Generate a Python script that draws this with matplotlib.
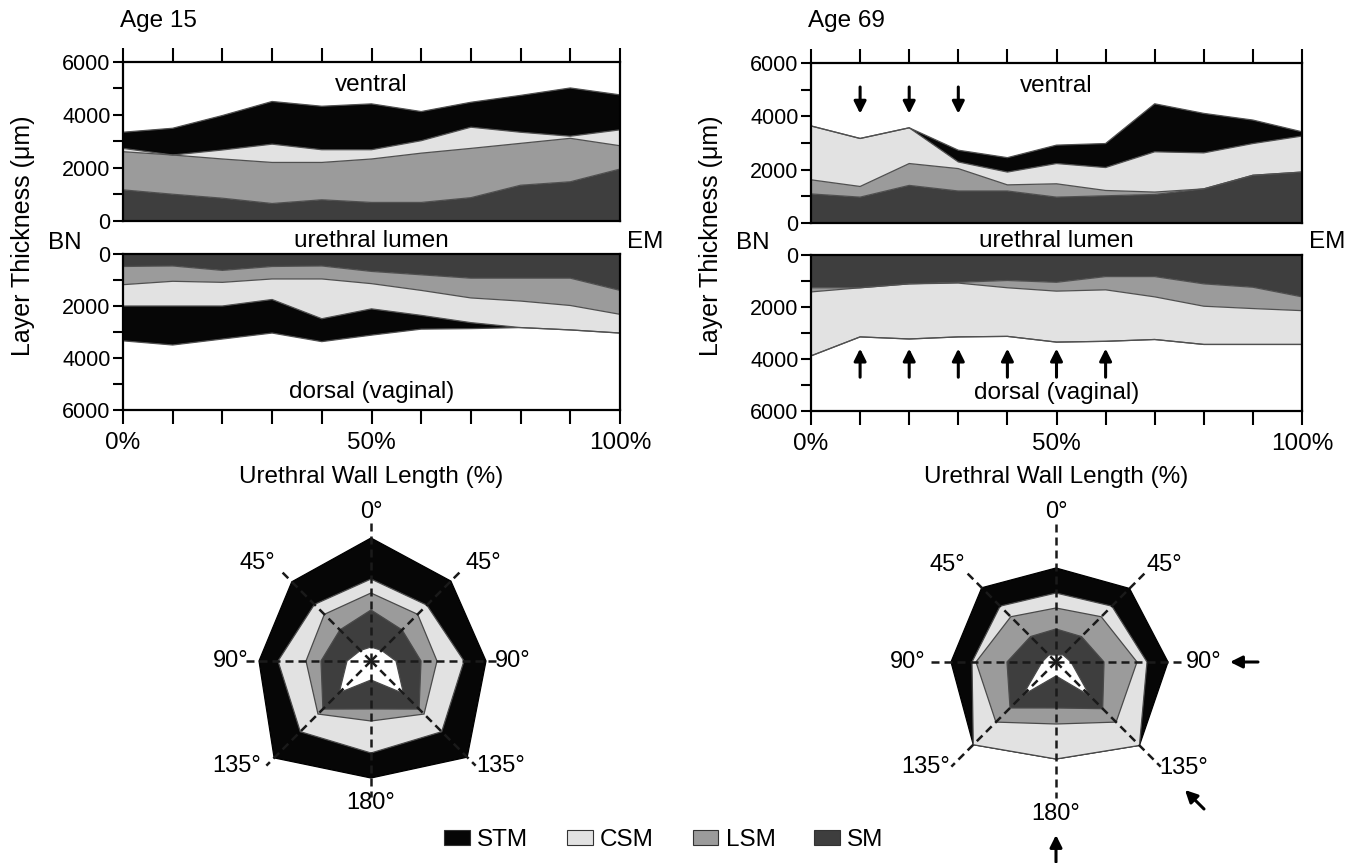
import numpy as np
import matplotlib
matplotlib.use('Agg')
import matplotlib.pyplot as plt
from matplotlib.patches import Patch, Polygon

plt.rcParams['font.family'] = ['Liberation Sans', 'DejaVu Sans']

W, H = 1363, 863

# ---------------- data ----------------
pos = [0, 10, 20, 30, 40, 50, 60, 70, 80, 90, 100]          # % urethral wall length
layers = ['SM', 'LSM', 'CSM', 'STM']                          # inner -> outer

# Age 15, ventral (cumulative upper boundary of each layer, um)
a15_v_sm  = [1175, 1010, 860, 660, 800, 700, 700, 880, 1350, 1480, 1960]
a15_v_lsm = [2615, 2490, 2340, 2210, 2210, 2340, 2560, 2740, 2930, 3120, 2840]
a15_v_csm = [2740, 2490, 2680, 2900, 2690, 2690, 3030, 3540, 3350, 3200, 3440]
a15_v_stm = [3350, 3500, 3980, 4510, 4330, 4420, 4130, 4480, 4740, 5020, 4760]
# Age 15, dorsal
a15_d_sm  = [480, 460, 630, 480, 460, 670, 800, 930, 930, 930, 1400]
a15_d_lsm = [1180, 1050, 1090, 960, 960, 1140, 1400, 1690, 1810, 1980, 2320]
a15_d_csm = [2000, 2000, 2000, 1750, 2490, 2110, 2360, 2640, 2830, 2920, 3040]
a15_d_stm = [3340, 3500, 3270, 3040, 3370, 3120, 2890, 2870, 2830, 2920, 3040]
# Age 69, ventral
a69_v_sm  = [1090, 970, 1410, 1200, 1200, 970, 1020, 1070, 1280, 1790, 1910]
a69_v_lsm = [1620, 1370, 2230, 2040, 1430, 1470, 1220, 1160, 1280, 1790, 1910]
a69_v_csm = [3640, 3170, 3570, 2290, 1910, 2230, 2080, 2670, 2630, 2980, 3260]
a69_v_stm = [3640, 3170, 3570, 2730, 2450, 2920, 2980, 4470, 4110, 3860, 3420]
# Age 69, dorsal
a69_d_sm  = [1260, 1260, 1110, 1050, 980, 1050, 830, 830, 1110, 1240, 1610]
a69_d_lsm = [1420, 1260, 1110, 1080, 1260, 1390, 1340, 1610, 1970, 2060, 2140]
a69_d_csm = [3880, 3150, 3230, 3150, 3130, 3350, 3320, 3250, 3440, 3440, 3440]
a69_d_stm = [3880, 3150, 3230, 3150, 3130, 3350, 3320, 3250, 3440, 3440, 3440]

arrows69_ventral = [10, 20, 30]
arrows69_dorsal = [10, 20, 30, 40, 50, 60]

# radar (cross section); angles clockwise from ventral (top)
radar_angles = [0, 45, 90, 135, 180, 225, 270, 315]
radar_labels = ['0°', '45°', '90°', '135°', '180°', '135°', '90°', '45°']
# cumulative outer radius of lumen and each layer (relative units)
r15_lumen = [14, 15, 25, 46, 19, 45, 24, 15]
r15_sm    = [51, 44, 50, 68, 48, 68, 50, 44]
r15_lsm   = [68, 66, 66, 75, 60, 75, 65, 66]
r15_csm   = [82, 79, 93, 100, 92, 100, 93, 80]
r15_stm   = [123, 113, 115, 136, 117, 137, 112, 112]

r69_lumen = [7, 10, 15, 48, 14, 47, 14, 10]
r69_sm    = [33, 36, 48, 66, 46, 65, 49, 36]
r69_lsm   = [54, 64, 81, 85, 62, 85, 80, 64]
r69_csm   = [69, 79, 91, 118, 97, 117, 84, 79]
r69_stm   = [94, 104, 112, 118, 97, 117, 105, 105]

COLORS = {'STM': '#060606', 'CSM': '#e2e2e2', 'LSM': '#9b9b9b', 'SM': '#3e3e3e'}

# ---------------- figure ----------------
fig = plt.figure(figsize=(W / 100, H / 100), dpi=100)


def px_ax(x0, y0, x1, y1):
    return fig.add_axes([x0 / W, 1 - y1 / H, (x1 - x0) / W, (y1 - y0) / H])


def style_common(ax):
    for s in ax.spines.values():
        s.set_linewidth(1.6)
    ax.set_xlim(0, 100)
    ax.set_yticks([0, 2000, 4000, 6000])
    ax.set_yticks([1000, 3000, 5000], minor=True)
    ax.set_yticklabels(['0', '2000', '4000', '6000'])
    ax.tick_params(axis='y', which='both', direction='out', length=7, width=1.5,
                   labelsize=15.5, pad=2)
    ax.set_xticks(pos)


def stack(ax, bounds):
    prev = np.zeros(len(pos))
    for b, key in zip(bounds, layers):
        b = np.array(b, dtype=float)
        ax.fill_between(pos, prev, b, facecolor=COLORS[key], edgecolor='none', lw=0)
        prev = b
    for b in bounds:
        ax.plot(pos, b, color='#505050', lw=0.9)


def panels(x0, x1, yt0, yt1, yb0, yb1, ventral, dorsal, title, v_arrows=None, d_arrows=None):
    axt = px_ax(x0, yt0, x1, yt1)
    stack(axt, ventral)
    style_common(axt)
    axt.set_ylim(0, 6000)
    axt.xaxis.tick_top()
    axt.tick_params(axis='x', which='major', direction='out', length=10, width=1.5,
                    labeltop=False, top=True, bottom=False)
    axt.text(50, 5150, 'ventral', ha='center', va='center', fontsize=17.5)
    if v_arrows:
        for xa in v_arrows:
            axt.annotate('', xy=(xa, 4100), xytext=(xa, 5100),
                         arrowprops=dict(arrowstyle='-|>', color='k', lw=2.2,
                                         mutation_scale=18, shrinkA=0, shrinkB=0))

    axb = px_ax(x0, yb0, x1, yb1)
    stack(axb, dorsal)
    style_common(axb)
    axb.set_ylim(6000, 0)
    xl = ['0%' if p == 0 else '50%' if p == 50 else '100%' if p == 100 else '' for p in pos]
    axb.set_xticklabels(xl)
    axb.tick_params(axis='x', which='major', direction='out', length=10, width=1.5,
                    labelsize=17.5, pad=6)
    axb.text(50, 5300, 'dorsal (vaginal)', ha='center', va='center', fontsize=17.5)
    if d_arrows:
        for xa in d_arrows:
            axb.annotate('', xy=(xa, 3600), xytext=(xa, 4700),
                         arrowprops=dict(arrowstyle='-|>', color='k', lw=2.2,
                                         mutation_scale=18, shrinkA=0, shrinkB=0))

    xc = (x0 + x1) / 2
    fig.text(xc / W, 1 - 241 / H, 'urethral lumen', ha='center', va='center', fontsize=17.5)
    fig.text((x0 - 58) / W, 1 - 243 / H, 'BN', ha='center', va='center', fontsize=17.5)
    fig.text((x1 + 25) / W, 1 - 242 / H, 'EM', ha='center', va='center', fontsize=17.5)
    fig.text(xc / W, 1 - 477 / H, 'Urethral Wall Length (%)', ha='center', va='center',
             fontsize=17.5)
    fig.text((x0 - 100) / W, 1 - 236 / H, 'Layer Thickness (μm)', ha='center', va='center',
             rotation=90, fontsize=18)
    fig.text((x0 - 3) / W, 1 - 21 / H, title, ha='left', va='center', fontsize=17.5)


panels(123, 620, 62, 221, 254, 410,
       [a15_v_sm, a15_v_lsm, a15_v_csm, a15_v_stm],
       [a15_d_sm, a15_d_lsm, a15_d_csm, a15_d_stm], 'Age 15')
panels(811, 1302, 63, 223, 255, 411,
       [a69_v_sm, a69_v_lsm, a69_v_csm, a69_v_stm],
       [a69_d_sm, a69_d_lsm, a69_d_csm, a69_d_stm], 'Age 69',
       v_arrows=arrows69_ventral, d_arrows=arrows69_dorsal)


# ---------------- radar cross sections ----------------
def radar(cx, cy, radii, line_len, label_xy, arrows=()):
    R = 215
    ax = px_ax(cx - R, cy - R, cx + R, cy + R)
    ax.set_xlim(-R, R)
    ax.set_ylim(-R, R)
    ax.axis('off')
    th = np.deg2rad(radar_angles)
    fills = [('STM', radii[4]), ('CSM', radii[3]), ('LSM', radii[2]), ('SM', radii[1])]
    for key, r in fills:
        r = np.array(r, dtype=float)
        pts = np.column_stack([r * np.sin(th), r * np.cos(th)])
        ec = 'k' if key == 'STM' else '#4a4a4a'
        ax.add_patch(Polygon(pts, closed=True, facecolor=COLORS[key], edgecolor=ec, lw=0.9))
    r = np.array(radii[0], dtype=float)
    pts = np.column_stack([r * np.sin(th), r * np.cos(th)])
    ax.add_patch(Polygon(pts, closed=True, facecolor='white', edgecolor='#4a4a4a', lw=0.9))
    for t, L in zip(th, line_len):
        ax.plot([0, L * np.sin(t)], [0, L * np.cos(t)], color='#1a1a1a', lw=1.8,
                linestyle=(0, (3.2, 2.0)))
    for lab, (lx, ly) in zip(radar_labels, label_xy):
        ax.text(lx, ly, lab, ha='center', va='center', fontsize=17)
    for (tx, ty), (sx, sy) in arrows:
        ax.annotate('', xy=(tx, ty), xytext=(sx, sy),
                    arrowprops=dict(arrowstyle='-|>', color='k', lw=2.2,
                                    mutation_scale=18, shrinkA=0, shrinkB=0))


line_len = [138, 130, 130, 148, 136, 148, 130, 130]
lab15 = [(0, 149), (112, 98), (142, 0), (130, -105), (0, -142), (-134, -105), (-140, 0),
         (-114, 98)]
lab69 = [(0, 150), (108, 97), (148, 0), (128, -106), (0, -152), (-130, -105), (-148, 0),
         (-109, 97)]

radar(371, 661, [r15_lumen, r15_sm, r15_lsm, r15_csm, r15_stm], line_len, lab15)
radar(1056, 662, [r69_lumen, r69_sm, r69_lsm, r69_csm, r69_stm], line_len, lab69,
      arrows=[((174, 0), (202, 0)), ((129, -128), (148, -147)), ((0, -173), (0, -200))])

# ---------------- legend ----------------
handles = [Patch(facecolor=COLORS[k], edgecolor='#333333', lw=0.8) for k in ['STM', 'CSM', 'LSM', 'SM']]
fig.legend(handles, ['STM', 'CSM', 'LSM', 'SM'], loc='center',
           bbox_to_anchor=(664 / W, 1 - 840 / H), ncol=4, frameon=False, fontsize=17.5,
           handlelength=1.05, handleheight=0.55, columnspacing=1.6, handletextpad=0.3)

fig.savefig('out.png', dpi=100)
